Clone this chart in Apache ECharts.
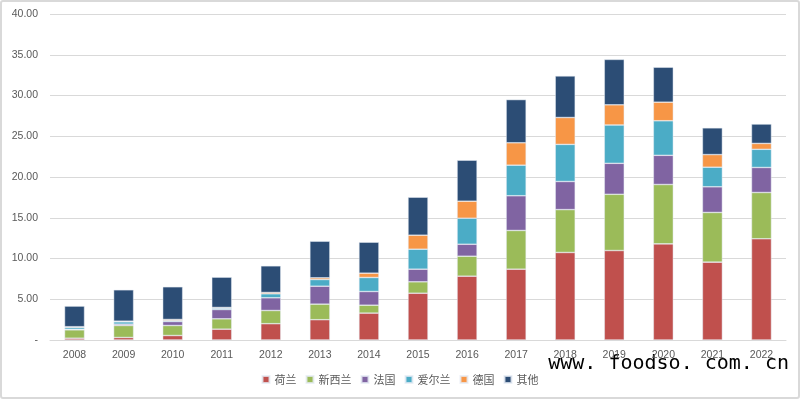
<!DOCTYPE html>
<html>
<head>
<meta charset="utf-8">
<title></title>
<script src="https://cdn.jsdelivr.net/npm/echarts@6/dist/echarts.min.js"></script>
<style>
  html, body { margin: 0; padding: 0; background: #fff; }
  #chart { width: 800px; height: 399px; box-sizing: border-box; border: 2px solid #d9d9d9; border-radius: 3px; }
</style>
</head>
<body>
<div id="chart"></div>
<script>
var years = ['2008','2009','2010','2011','2012','2013','2014','2015','2016','2017','2018','2019','2020','2021','2022'];
var helan    = [0.22, 0.31, 0.55, 1.33, 2.00, 2.49, 3.30, 5.74, 7.83, 8.69, 10.74, 10.98, 11.80, 9.55, 12.42];
var xinxilan = [1.03, 1.47, 1.23, 1.27, 1.62, 1.91, 0.97, 1.40, 2.45, 4.75, 5.26, 6.90, 7.28, 6.10, 5.68];
var faguo    = [0.06, 0.16, 0.49, 1.14, 1.56, 2.20, 1.68, 1.55, 1.47, 4.26, 3.45, 3.80, 3.58, 3.15, 3.07];
var aierlan  = [0.23, 0.29, 0.12, 0.16, 0.49, 0.82, 1.72, 2.45, 3.19, 3.75, 4.55, 4.70, 4.24, 2.40, 2.23];
var deguo    = [0.09, 0.08, 0.13, 0.09, 0.16, 0.21, 0.53, 1.72, 2.09, 2.75, 3.30, 2.48, 2.28, 1.55, 0.72];
var qita     = [2.53, 3.85, 4.01, 3.72, 3.27, 4.49, 3.80, 4.66, 5.03, 5.30, 5.10, 5.57, 4.29, 3.28, 2.38];

var names  = ['荷兰','新西兰','法国','爱尔兰','德国','其他'];
var colors = ['#C0504D','#9BBB59','#8064A2','#4BACC6','#F79646','#2C4D75'];
var values = [helan, xinxilan, faguo, aierlan, deguo, qita];

var series = [];
for (var i = 0; i < names.length; i++) {
  series.push({
    name: names[i],
    type: 'bar',
    stack: 'total',
    barWidth: 20,
    data: values[i],
    itemStyle: { color: colors[i], borderColor: 'rgba(230,236,245,0.8)', borderWidth: 0.6 }
  });
}

var myChart = echarts.init(document.getElementById('chart'));
var option = {
  animation: false,
  color: colors,
  grid: { left: 48, right: 12, top: 12, bottom: 57 },
  legend: {
    bottom: 7,
    left: 'center',
    itemWidth: 7,
    itemHeight: 7,
    itemGap: 9,
    icon: 'rect',
    textStyle: { color: '#595959', fontSize: 11, fontFamily: 'Noto Sans CJK SC' },
    data: names
  },
  xAxis: {
    type: 'category',
    data: years,
    axisTick: { show: false },
    axisLine: { lineStyle: { color: '#d9d9d9' } },
    axisLabel: { color: '#595959', fontSize: 10.5, margin: 10, fontFamily: 'Liberation Sans' }
  },
  yAxis: {
    type: 'value',
    min: 0,
    max: 40,
    interval: 5,
    axisLine: { show: false },
    axisTick: { show: false },
    splitLine: { lineStyle: { color: '#d9d9d9' } },
    axisLabel: {
      color: '#595959', fontSize: 10.5, margin: 12, fontFamily: 'Liberation Sans',
      formatter: function (v) { return v === 0 ? '-' : v.toFixed(2); }
    }
  },
  graphic: [{
    type: 'text',
    right: 9,
    bottom: 23,
    style: { text: 'www. foodso. com. cn', fill: '#000', fontSize: 20, fontFamily: 'DejaVu Sans Mono' }
  }],
  series: series
};
myChart.setOption(option);
</script>
</body>
</html>
